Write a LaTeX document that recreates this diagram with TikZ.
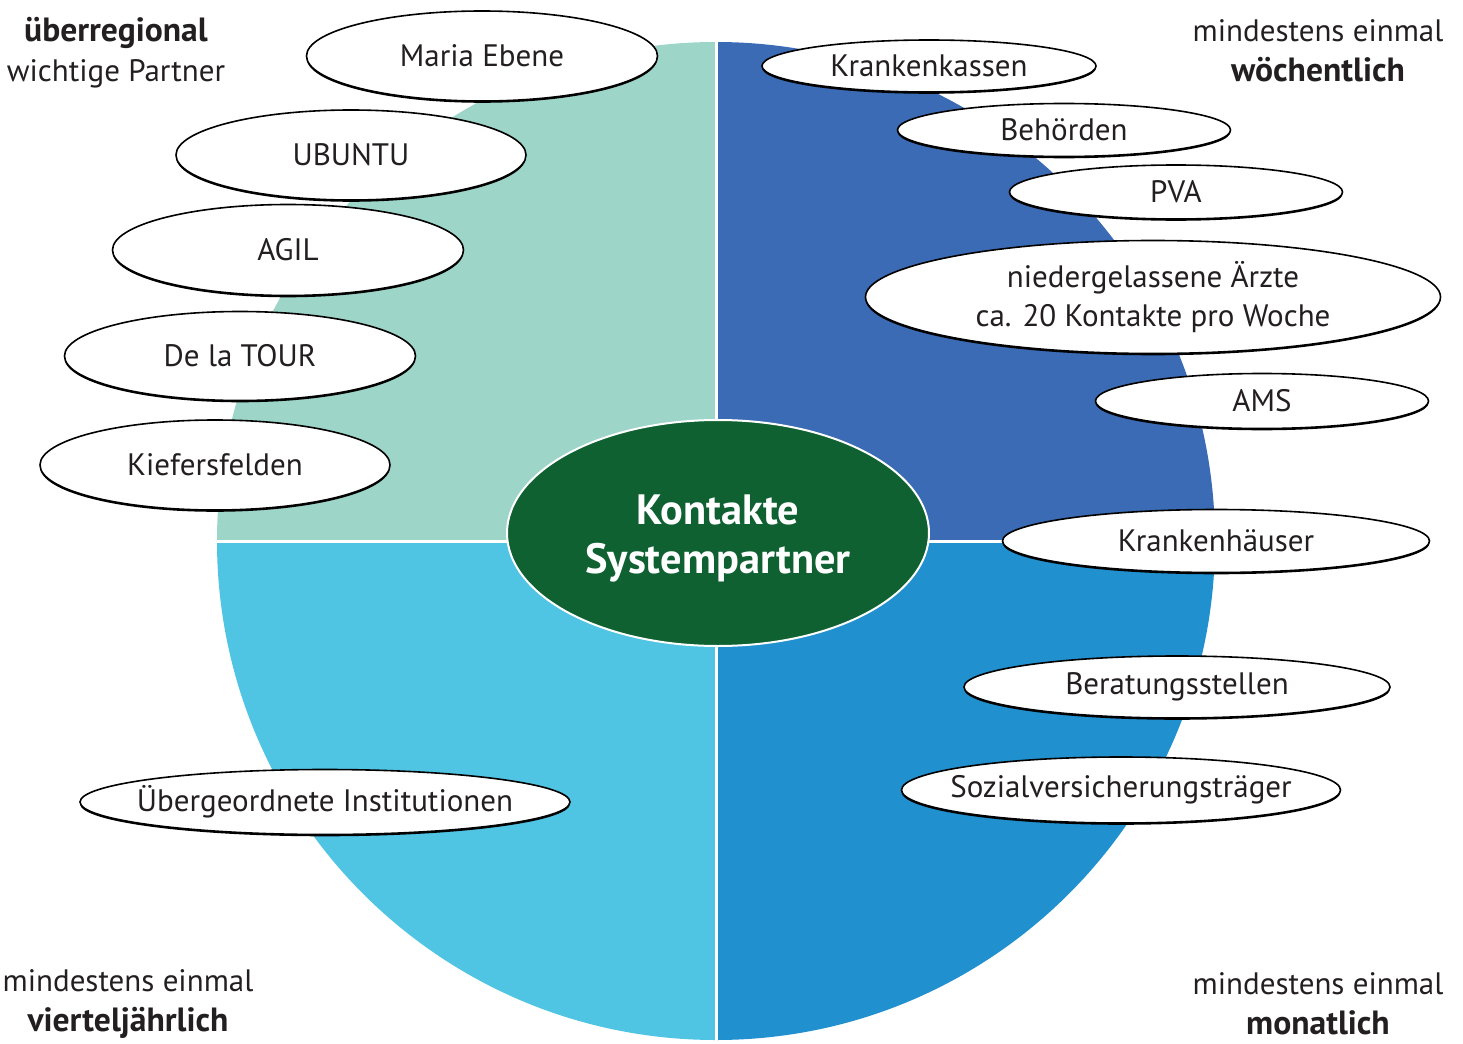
\documentclass[tikz,border=0pt]{standalone}
\usepackage{fontspec}
\setmainfont{PT Sans}
\usetikzlibrary{shapes.geometric,shadows}
\definecolor{mint}{HTML}{9DD5C9}
\definecolor{weekblue}{HTML}{3A6BB4}
\definecolor{monthblue}{HTML}{2190CF}
\definecolor{quarterblue}{HTML}{4FC4E3}
\definecolor{darkgreen}{HTML}{0F6132}
\definecolor{textgray}{HTML}{231F20}

\tikzset{
  partner/.style={ellipse, draw=black, line width=0.8pt, fill=white, inner sep=0pt,
    text=textgray, font=\fontsize{15.5}{19.5}\selectfont,
    drop shadow={shadow xshift=0pt, shadow yshift=-0.9pt, opacity=1, fill=black}},
  corner/.style={align=center, text=textgray, font=\fontsize{15.5}{20}\selectfont}
}
\newcommand{\freq}[1]{{\fontsize{16.8}{20}\selectfont\bfseries #1}}

\begin{document}
\begin{tikzpicture}[x=0.5pt,y=-0.5pt]
  \useasboundingbox (0,0) rectangle (1463,1044);
  % Quadrants
  \coordinate (c) at (716,541);
  \fill[mint] (c) -- ++(-499,0) arc[start angle=180,end angle=270,radius=499] -- cycle;
  \fill[weekblue] (c) -- ++(0,-499) arc[start angle=270,end angle=360,radius=499] -- cycle;
  \fill[monthblue] (c) -- ++(499,0) arc[start angle=0,end angle=90,radius=499] -- cycle;
  \fill[quarterblue] (c) -- ++(0,499) arc[start angle=90,end angle=180,radius=499] -- cycle;
  \draw[white,line width=1.5pt] (716,40) -- (716,1042);
  \draw[white,line width=1.5pt] (215,541) -- (1217,541);
  % Centre
  \node[ellipse, fill=darkgreen, draw=white, line width=1pt, minimum width=211pt, minimum height=113pt,
    inner sep=0pt,
    label={[align=center, text=white, font=\fontsize{21.2}{24.5}\selectfont\bfseries, yshift=-3pt]center:Kontakte\\Systempartner}]
    (kontakte) at (718,533) {};
  % Corner labels
  \node[corner] (ueberregional) at (116,53) {\freq{überregional}\\wichtige Partner};
  \node[corner] (woechentlich) at (1318,51) {mindestens einmal\\\freq{wöchentlich}};
  \node[corner] (vierteljaehrlich) at (128,1004) {mindestens einmal\\\freq{vierteljährlich}};
  \node[corner] (monatlich) at (1318,1004) {mindestens einmal\\\freq{monatlich}};
  % Partners, top left
  \node[partner, minimum width=175.5pt, minimum height=45pt] (maria) at (482,56) {Maria Ebene};
  \node[partner, minimum width=175pt, minimum height=45pt] (ubuntu) at (351,155) {UBUNTU};
  \node[partner, minimum width=175.5pt, minimum height=45.5pt] (agil) at (288,250) {AGIL};
  \node[partner, minimum width=175.5pt, minimum height=44.5pt] (tour) at (240,356) {De la TOUR};
  \node[partner, minimum width=175pt, minimum height=45pt] (kiefersfelden) at (215,465) {Kiefersfelden};
  % Partners, top right
  \node[partner, minimum width=167pt, minimum height=26pt] (kassen) at (929,66) {Krankenkassen};
  \node[partner, minimum width=166.5pt, minimum height=26.5pt] (behoerden) at (1064,130) {Behörden};
  \node[partner, minimum width=166.5pt, minimum height=27pt] (pva) at (1176,192) {PVA};
  \node[partner, minimum width=287.5pt, minimum height=56.5pt, align=center] (aerzte) at (1153,297)
    {niedergelassene Ärzte\\ca. 20 Kontakte pro Woche};
  \node[partner, minimum width=166.5pt, minimum height=27.5pt] (ams) at (1262,401) {AMS};
  \node[partner, minimum width=213.5pt, minimum height=31.5pt] (spitaeler) at (1216,541) {Krankenhäuser};
  % Partners, bottom
  \node[partner, minimum width=213pt, minimum height=31pt] (beratung) at (1177,687) {Beratungsstellen};
  \node[partner, minimum width=219.5pt, minimum height=33pt] (sozial) at (1121,790)
    {\makebox[0pt]{Sozialversicherungsträger}};
  \node[partner, minimum width=245pt, minimum height=32.5pt] (institutionen) at (325,802)
    {\makebox[0pt]{Übergeordnete Institutionen}};
\end{tikzpicture}
\end{document}
